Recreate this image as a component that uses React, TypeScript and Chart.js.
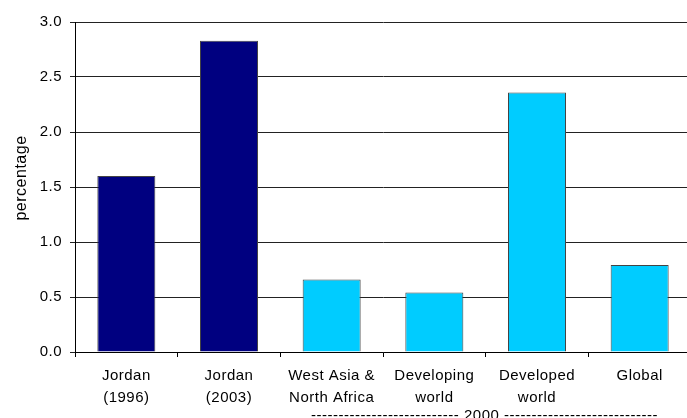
import React, { useEffect, useRef } from "react";
import { Chart, registerables } from "chart.js";

Chart.register(...registerables);

// Categories (multi-line labels) and values in percent
const categories: string[][] = [
  ["Jordan", "(1996)"],
  ["Jordan", "(2003)"],
  ["West Asia &", "North Africa"],
  ["Developing", "world"],
  ["Developed", "world"],
  ["Global"],
];
const values: number[] = [1.6, 2.83, 0.66, 0.54, 2.36, 0.79];
const barColors: string[] = ["#000080", "#000080", "#00CCFF", "#00CCFF", "#00CCFF", "#00CCFF"];
const groupLabel = "2000";
const yTitle = "percentage";

const FONT = "'Liberation Sans', Arial, sans-serif";
const W = 700;
const H = 430;

// Slightly wider letter spacing for all chart text
const spacingPlugin = {
  id: "spacing",
  beforeLayout(chart: Chart) {
    (chart.ctx as any).letterSpacing = "0.5px";
  },
  beforeDraw(chart: Chart) {
    (chart.ctx as any).letterSpacing = "0.5px";
  },
};

// Rotated y-axis title and the "---- 2000 ----" bracket under the last four categories
const labelsPlugin = {
  id: "extraLabels",
  afterDraw(chart: Chart) {
    const ctx = chart.ctx;
    const x = chart.scales.x;
    ctx.save();
    (ctx as any).letterSpacing = "0.5px";
    ctx.fillStyle = "#000";

    // y title
    ctx.save();
    ctx.font = `16px ${FONT}`;
    ctx.translate(22, 178);
    ctx.rotate(-Math.PI / 2);
    ctx.textAlign = "center";
    ctx.textBaseline = "middle";
    ctx.fillText(yTitle, 0, 0);
    ctx.restore();

    // group bracket
    const center = (x.getPixelForValue(2) + x.getPixelForValue(5)) / 2 - 4;
    ctx.font = `15px ${FONT}`;
    ctx.textBaseline = "alphabetic";
    const mid = ` ${groupLabel} `;
    const midW = ctx.measureText(mid).width;
    const dashW = ctx.measureText("-").width;
    const left = "-".repeat(Math.round(148 / dashW));
    const right = "-".repeat(Math.round(152 / dashW));
    const y = 420;
    ctx.textAlign = "center";
    ctx.fillText(mid, center, y);
    ctx.textAlign = "right";
    ctx.fillText(left, center - midW / 2, y);
    ctx.textAlign = "left";
    ctx.fillText(right, center + midW / 2, y);
    ctx.restore();
  },
};

export default function App() {
  const ref = useRef<HTMLCanvasElement | null>(null);

  useEffect(() => {
    if (!ref.current) return;
    const chart = new Chart(ref.current, {
      type: "bar",
      data: {
        labels: categories,
        datasets: [
          {
            data: values,
            backgroundColor: barColors,
            borderColor: "#444",
            borderWidth: 1,
            barPercentage: 0.565,
            categoryPercentage: 1,
          },
        ],
      },
      options: {
        responsive: false,
        animation: false,
        devicePixelRatio: 1,
        layout: { padding: { left: 0, right: W - 691, top: 22, bottom: 0 } },
        plugins: {
          legend: { display: false },
          tooltip: { enabled: false },
        },
        scales: {
          x: {
            grid: {
              display: true,
              drawOnChartArea: false,
              drawTicks: true,
              tickLength: 5,
              color: "#000",
              offset: true,
            },
            border: { display: true, color: "#000", width: 1 },
            ticks: {
              color: "#000",
              font: { family: FONT, size: 15, lineHeight: 1.45 },
              padding: 8,
              maxRotation: 0,
              autoSkip: false,
            },
            afterFit(scale: any) {
              scale.height = H - 352;
            },
          },
          y: {
            min: 0,
            max: 3,
            grid: {
              color: "#222",
              lineWidth: 1,
              drawTicks: true,
              tickLength: 5,
            },
            border: { display: true, color: "#000", width: 1 },
            ticks: {
              stepSize: 0.5,
              color: "#000",
              font: { family: FONT, size: 15 },
              padding: 8,
              callback: (v: any) => Number(v).toFixed(1),
            },
            afterFit(scale: any) {
              scale.width = 75;
            },
          },
        },
      },
      plugins: [spacingPlugin, labelsPlugin],
    });
    return () => chart.destroy();
  }, []);

  return (
    <div
      style={{
        position: "fixed",
        left: 0,
        top: 0,
        width: 687,
        height: 418,
        overflow: "hidden",
        background: "#fff",
      }}
    >
      <canvas ref={ref} width={W} height={H} style={{ width: W, height: H, display: "block" }} />
    </div>
  );
}
